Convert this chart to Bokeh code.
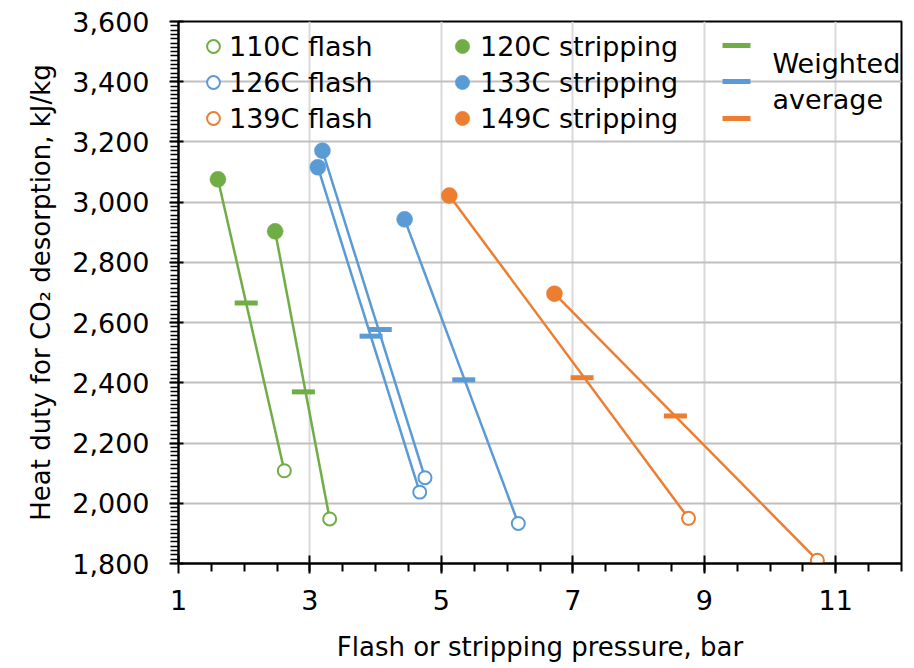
import numpy as np
from bokeh.plotting import figure
from bokeh.models import (Range1d, FixedTicker, SingleIntervalTicker, NumeralTickFormatter,
                          Legend, LegendItem, Label)
from bokeh.embed import file_html
from bokeh.resources import INLINE

# ---------------- data ----------------
x_ticks = [1, 3, 5, 7, 9, 11]
y_ticks = [1800, 2000, 2200, 2400, 2600, 2800, 3000, 3200, 3400, 3600]

flash110_x = [2.61, 3.30]
flash110_y = [2108, 1948]
strip120_x = [1.60, 2.47]
strip120_y = [3076, 2903]
wavg120_x = [2.03, 2.90]
wavg120_y = [2665, 2370]

flash126_x = [4.75, 4.67, 6.17]
flash126_y = [2085, 2037, 1933]
strip133_x = [3.19, 3.12, 4.44]
strip133_y = [3171, 3116, 2943]
wavg133_x = [4.07, 3.93, 5.34]
wavg133_y = [2577, 2555, 2410]

flash139_x = [8.76, 10.72]
flash139_y = [1950, 1811]
strip149_x = [5.12, 6.72]
strip149_y = [3022, 2696]
wavg149_x = [7.14, 8.56]
wavg149_y = [2417, 2290]

GREEN = "#70AD47"
BLUE = "#5B9BD5"
ORANGE = "#ED7D31"
FONT = "DejaVu Sans"

# ---------------- figure ----------------
p = figure(width=914, height=668, x_range=Range1d(1, 12), y_range=Range1d(1800, 3600),
           output_backend="svg", toolbar_location=None,
           min_border_left=178, min_border_right=13, min_border_top=21, min_border_bottom=105)
p.background_fill_color = "white"
p.border_fill_color = "white"
p.outline_line_color = "black"
p.outline_line_width = 2

x_minor = list(np.arange(1.5, 12.01, 0.5))
p.xaxis.ticker = FixedTicker(ticks=x_ticks, minor_ticks=x_minor)
p.yaxis.ticker = SingleIntervalTicker(interval=200, num_minor_ticks=14)
p.yaxis.formatter = NumeralTickFormatter(format="0,0")
p.xgrid.ticker = FixedTicker(ticks=x_ticks)
p.ygrid.ticker = FixedTicker(ticks=y_ticks)
p.xgrid.grid_line_color = "#D9D9D9"
p.xgrid.grid_line_width = 2
p.ygrid.grid_line_color = "#BFBFBF"
p.ygrid.grid_line_width = 2

p.xaxis.axis_label = "Flash or stripping pressure, bar"
p.yaxis.axis_label = "Heat duty for CO\u2082 desorption, kJ/kg"
for ax in (p.xaxis[0], p.yaxis[0]):
    ax.axis_line_color = "black"
    ax.axis_line_width = 2
    ax.major_tick_line_color = "black"
    ax.major_tick_line_width = 2
    ax.minor_tick_line_color = "black"
    ax.major_label_text_font = FONT
    ax.major_label_text_font_size = "27px"
    ax.major_label_text_color = "black"
    ax.axis_label_text_font = FONT
    ax.axis_label_text_font_size = "26px"
    ax.axis_label_text_font_style = "normal"
    ax.axis_label_text_color = "black"

p.xaxis.major_tick_in = 8
p.xaxis.major_tick_out = 10
p.xaxis.minor_tick_in = 0
p.xaxis.minor_tick_out = 8
p.xaxis.minor_tick_line_width = 2
p.xaxis.major_label_standoff = 16
p.xaxis.axis_label_standoff = 19

p.yaxis.major_tick_in = 5
p.yaxis.major_tick_out = 9
p.yaxis.minor_tick_in = 0
p.yaxis.minor_tick_out = 8
p.yaxis.minor_tick_line_width = 1.5
p.yaxis.major_label_standoff = 20
p.yaxis.axis_label_standoff = 13

# ---------------- glyphs ----------------
series = [
    (strip120_x, strip120_y, flash110_x, flash110_y, wavg120_x, wavg120_y, GREEN),
    (strip133_x, strip133_y, flash126_x, flash126_y, wavg133_x, wavg133_y, BLUE),
    (strip149_x, strip149_y, flash139_x, flash139_y, wavg149_x, wavg149_y, ORANGE),
]
flash_r, strip_r, wavg_r = [], [], []
for sx, sy, fx, fy, wx, wy, c in series:
    p.segment(x0=sx, y0=sy, x1=fx, y1=fy, line_color=c, line_width=2.5)
for sx, sy, fx, fy, wx, wy, c in series:
    fr = p.scatter(fx, fy, marker="circle", size=13, fill_color="white",
                   line_color=c, line_width=2)
    sr = p.scatter(sx, sy, marker="circle", size=16, fill_color=c, line_color=c, line_width=0.5)
    wr = p.scatter(wx, wy, marker="dash", size=23, line_color=c, line_width=5)
    flash_r.append(fr)
    strip_r.append(sr)
    wavg_r.append(wr)

# ---------------- legends ----------------
def make_legend(labels, rends, loc, gw, gh=36):
    lg = Legend(items=[LegendItem(label=l, renderers=[r]) for l, r in zip(labels, rends)],
                location=loc, glyph_width=gw, glyph_height=gh, label_height=gh,
                spacing=0, padding=0, margin=0, label_standoff=0,
                label_text_font=FONT, label_text_font_size="27px", label_text_color="black",
                background_fill_alpha=0, border_line_alpha=0)
    p.add_layout(lg)
    return lg

make_legend(["110C flash", "126C flash", "139C flash"], flash_r, (19, 427), 32)
make_legend(["120C stripping", "133C stripping", "149C stripping"], strip_r, (266, 427), 36)
# weighted-average dashes: one legend per row (dash length = 0.4 * glyph box)
for r, vy in zip(wavg_r, (483, 447, 410)):
    make_legend([" "], [r], (523, vy), 70, 70)

for txt, yy in (("Weighted", 500), ("average", 464)):
    p.add_layout(Label(x=594, y=yy, x_units="screen", y_units="screen", text=txt,
                       text_font=FONT, text_font_size="27px", text_color="black",
                       text_baseline="alphabetic", text_align="left"))

open("out.html", "w").write(file_html(p, INLINE))
